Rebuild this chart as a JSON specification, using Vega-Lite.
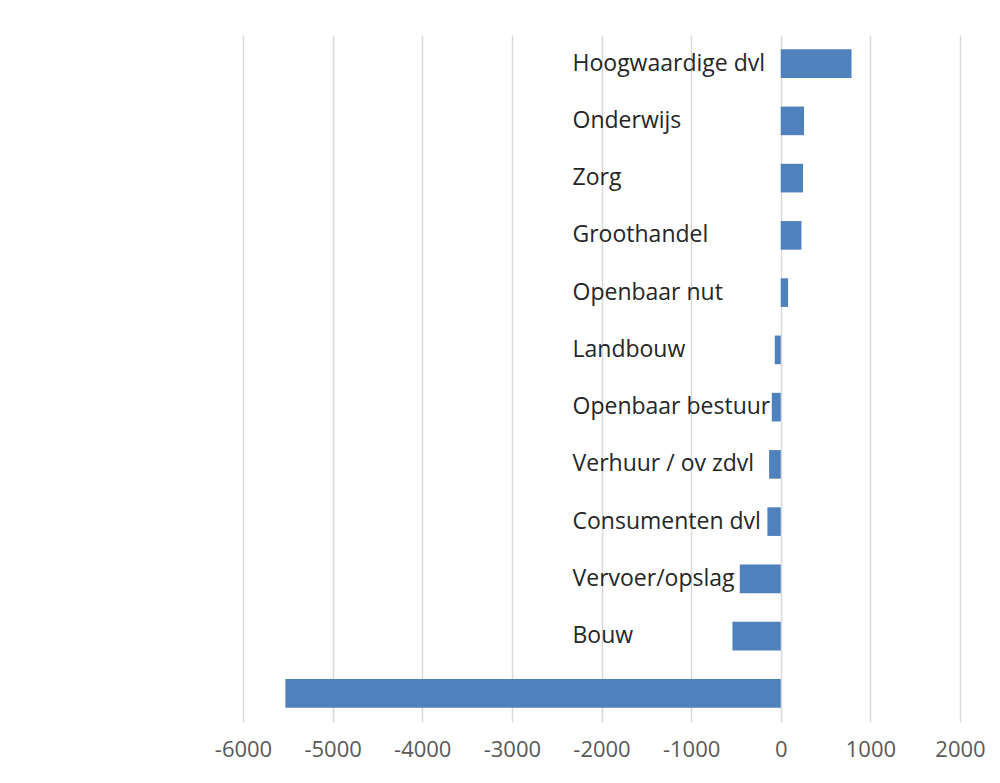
{
  "$schema": "https://vega.github.io/schema/vega-lite/v6.json",
  "autosize": {"type": "none"},
  "width": 717,
  "height": 687,
  "padding": {"left": 243, "top": 35, "right": 40, "bottom": 61},
  "background": "white",
  "data": {"values": [
    {"sector": "Hoogwaardige dvl", "value": 790},
    {"sector": "Onderwijs", "value": 260},
    {"sector": "Zorg", "value": 249},
    {"sector": "Groothandel", "value": 231},
    {"sector": "Openbaar nut", "value": 82},
    {"sector": "Landbouw", "value": -67},
    {"sector": "Openbaar bestuur", "value": -100},
    {"sector": "Verhuur / ov zdvl", "value": -130},
    {"sector": "Consumenten dvl", "value": -149},
    {"sector": "Vervoer/opslag", "value": -457},
    {"sector": "Bouw", "value": -539},
    {"sector": " ", "value": -5527}
  ]},
  "mark": {"type": "bar", "color": "#4F81BD"},
  "encoding": {
    "y": {
      "field": "sector", "type": "nominal", "sort": null,
      "scale": {"paddingInner": 0.5, "paddingOuter": 0.25},
      "axis": {
        "title": null, "domain": false, "ticks": false, "grid": false,
        "labelAlign": "left", "labelPadding": -329, "labelBaseline": "middle",
        "labelFont": "Open Sans", "labelFontSize": 23, "labelColor": "#262626",
        "labelLimit": 400
      }
    },
    "x": {
      "field": "value", "type": "quantitative",
      "scale": {"domain": [-6000, 2000], "nice": false},
      "axis": {
        "title": null, "domain": false, "ticks": false,
        "values": [-6000, -5000, -4000, -3000, -2000, -1000, 0, 1000, 2000],
        "labelExpr": "'' + datum.value",
        "labelOverlap": false, "labelFlush": false, "labelBound": false,
        "grid": true, "gridColor": "#D9D9D9", "gridWidth": 1.5,
        "labelFont": "Open Sans", "labelFontSize": 22, "labelColor": "#595959",
        "labelPadding": 17
      }
    }
  },
  "config": {"view": {"stroke": null}}
}
